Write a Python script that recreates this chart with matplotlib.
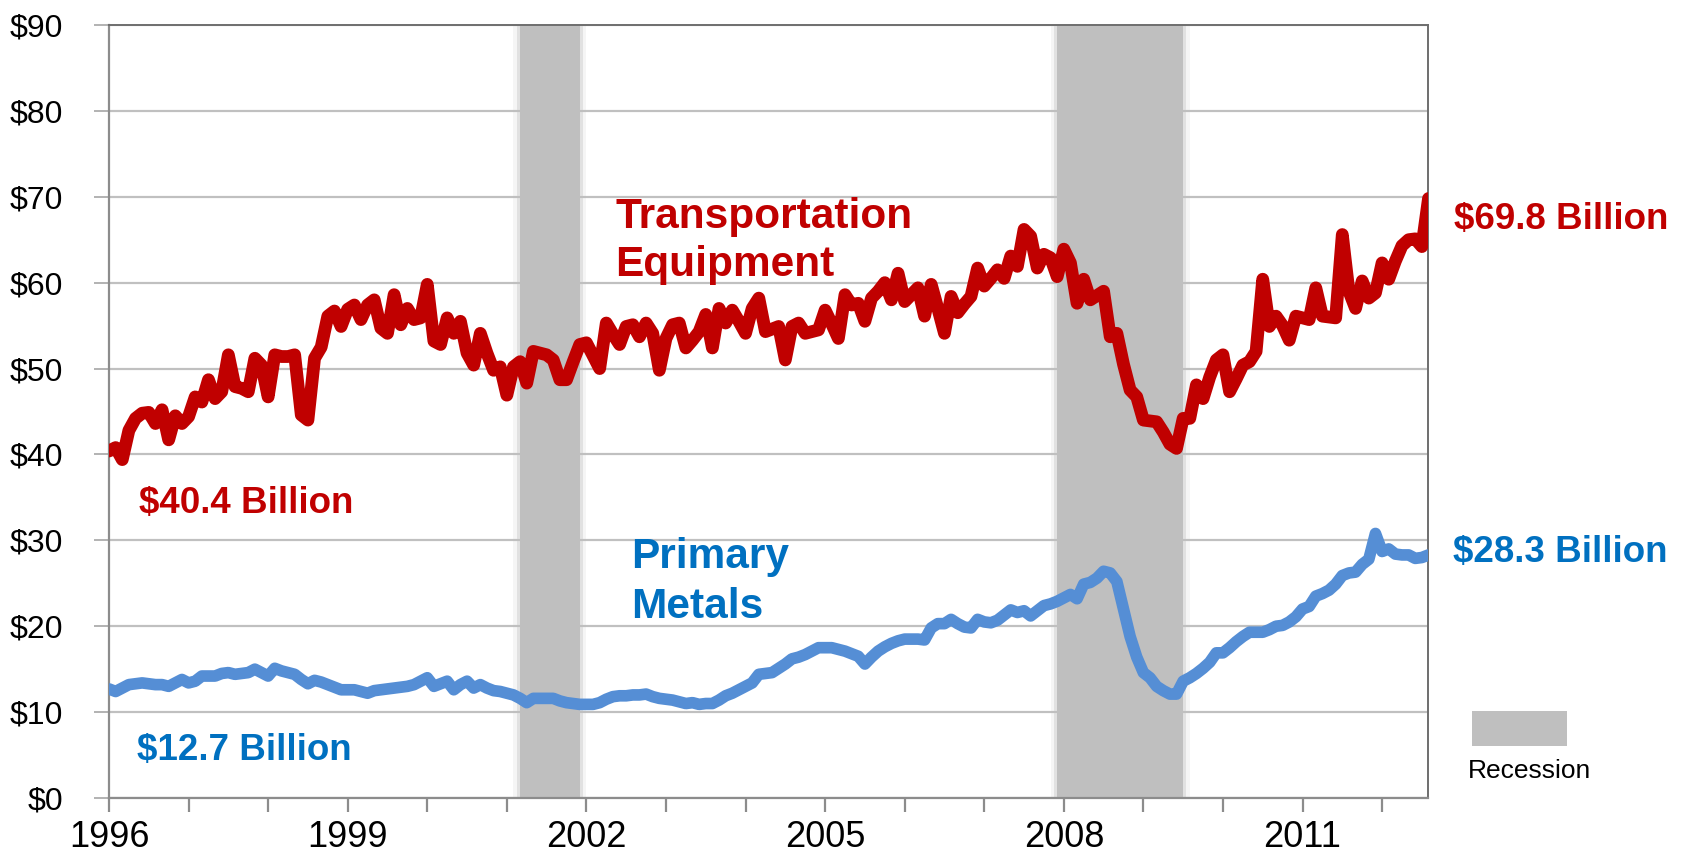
import matplotlib
matplotlib.use("Agg")
import matplotlib.pyplot as plt
from matplotlib.patches import Rectangle
import numpy as np

plt.rcParams['font.family'] = ['Liberation Sans', 'DejaVu Sans']

# Monthly shipments, Jan 1996 - Aug 2012 (billions of dollars)
transportation = [
    40.4, 40.8, 39.4, 42.8, 44.2, 44.8, 44.9, 43.6, 45.2, 41.7, 44.5, 43.6,   # 1996
    44.4, 46.7, 46.1, 48.7, 46.5, 47.3, 51.6, 47.9, 47.7, 47.3, 51.2, 50.4,   # 1997
    46.7, 51.6, 51.4, 51.4, 51.6, 44.6, 44.0, 51.2, 52.5, 56.1, 56.7, 54.9,   # 1998
    56.9, 57.4, 55.7, 57.4, 58.0, 54.7, 54.1, 58.6, 55.1, 57.0, 55.7, 55.9,   # 1999
    59.8, 53.2, 52.8, 55.9, 54.1, 55.5, 51.8, 50.4, 54.1, 51.8, 49.8, 50.2,   # 2000
    46.9, 50.2, 50.8, 48.3, 52.0, 51.8, 51.6, 51.0, 48.7, 48.7, 50.8, 52.8,   # 2001
    53.0, 51.5, 50.0, 55.3, 54.0, 52.8, 54.9, 55.1, 53.7, 55.3, 54.1, 49.8,   # 2002
    53.5, 55.1, 55.3, 52.4, 53.3, 54.3, 56.3, 52.4, 57.0, 55.3, 56.8, 55.5,   # 2003
    54.1, 57.0, 58.2, 54.3, 54.6, 54.9, 51.0, 54.9, 55.3, 54.1, 54.3, 54.5,   # 2004
    56.8, 55.2, 53.5, 58.6, 57.4, 57.6, 55.5, 58.2, 59.0, 60.0, 58.0, 61.1,   # 2005
    57.8, 58.6, 59.4, 56.1, 59.8, 57.0, 54.1, 58.4, 56.5, 57.5, 58.4, 61.7,   # 2006
    59.6, 60.5, 61.5, 60.5, 63.1, 61.9, 66.2, 65.4, 61.7, 63.3, 62.9, 60.7,   # 2007
    63.9, 62.3, 57.6, 60.4, 58.0, 58.5, 59.0, 53.7, 54.1, 50.5, 47.5, 46.7,   # 2008
    44.0, 43.9, 43.8, 42.6, 41.2, 40.7, 44.2, 44.2, 48.1, 46.5, 49.0, 51.0,   # 2009
    51.6, 47.3, 48.8, 50.4, 50.8, 52.0, 60.4, 54.9, 56.1, 55.0, 53.3, 56.1,   # 2010
    55.9, 55.7, 59.4, 56.1, 56.0, 55.9, 65.6, 59.0, 57.0, 60.2, 58.2, 58.8,   # 2011
    62.3, 60.4, 62.5, 64.3, 65.0, 65.1, 64.2, 69.8,                           # 2012
]
primary_metals = [
    12.7, 12.4, 12.8, 13.2, 13.3, 13.4, 13.3, 13.2, 13.2, 13.0, 13.4, 13.8,   # 1996
    13.4, 13.6, 14.2, 14.2, 14.2, 14.5, 14.6, 14.4, 14.5, 14.6, 15.0, 14.6,   # 1997
    14.2, 15.1, 14.8, 14.6, 14.4, 13.8, 13.3, 13.7, 13.5, 13.2, 12.9, 12.6,   # 1998
    12.6, 12.6, 12.4, 12.2, 12.5, 12.6, 12.7, 12.8, 12.9, 13.0, 13.2, 13.6,   # 1999
    14.0, 13.0, 13.3, 13.6, 12.6, 13.2, 13.6, 12.8, 13.2, 12.8, 12.5, 12.4,   # 2000
    12.2, 12.0, 11.6, 11.1, 11.6, 11.6, 11.6, 11.6, 11.3, 11.1, 11.0, 10.9,   # 2001
    10.9, 10.9, 11.1, 11.5, 11.8, 11.9, 11.9, 12.0, 12.0, 12.1, 11.8, 11.6,   # 2002
    11.5, 11.4, 11.2, 11.0, 11.1, 10.9, 11.0, 11.0, 11.4, 11.9, 12.2, 12.6,   # 2003
    13.0, 13.4, 14.4, 14.5, 14.6, 15.1, 15.6, 16.2, 16.4, 16.7, 17.1, 17.5,   # 2004
    17.5, 17.5, 17.3, 17.1, 16.8, 16.5, 15.6, 16.4, 17.1, 17.6, 18.0, 18.3,   # 2005
    18.5, 18.5, 18.5, 18.4, 19.8, 20.3, 20.3, 20.8, 20.3, 19.9, 19.8, 20.8,   # 2006
    20.5, 20.4, 20.7, 21.3, 21.9, 21.6, 21.8, 21.2, 21.8, 22.4, 22.6, 22.9,   # 2007
    23.3, 23.7, 23.2, 24.9, 25.1, 25.6, 26.4, 26.2, 25.2, 22.0, 18.8, 16.4,   # 2008
    14.6, 14.0, 13.0, 12.5, 12.1, 12.1, 13.6, 14.0, 14.5, 15.1, 15.8, 16.9,   # 2009
    16.9, 17.5, 18.2, 18.8, 19.3, 19.3, 19.3, 19.6, 20.0, 20.1, 20.5, 21.1,   # 2010
    22.0, 22.3, 23.5, 23.8, 24.2, 24.9, 25.9, 26.2, 26.3, 27.2, 27.8, 30.8,   # 2011
    28.7, 29.0, 28.4, 28.3, 28.3, 27.9, 28.0, 28.3,                           # 2012
]
year_labels = ['1996', '', '', '1999', '', '', '2002', '', '', '2005', '', '',
               '2008', '', '', '2011', '']
y_ticks = [0, 10, 20, 30, 40, 50, 60, 70, 80, 90]
y_tick_labels = ['$0', '$10', '$20', '$30', '$40', '$50', '$60', '$70', '$80', '$90']
# recessions as month index ranges (Mar-Nov 2001, Dec 2007-Jun 2009)
recessions = [(62, 71), (143, 162)]

RED = '#C00000'
BLUE_LINE = '#558ED5'
BLUE_TEXT = '#0070C0'
SHADE = '#BFBFBF'

fig = plt.figure(figsize=(16.88, 8.59), dpi=100)
ax = fig.add_axes([109 / 1688, 61 / 859, 1319.5 / 1688, 773 / 859])

n = len(transportation)
x = np.arange(n)

for s, e in recessions:
    ax.axvspan(s, e, color=SHADE, zorder=1, lw=0)
    for k, a in [(0.5, 0.35), (1.0, 0.15)]:
        ax.axvspan(s - k, s, color=SHADE, alpha=a, zorder=1, lw=0)
        ax.axvspan(e, e + k, color=SHADE, alpha=a, zorder=1, lw=0)

ax.plot(x, transportation, color=RED, lw=9.2, solid_joinstyle='round',
        solid_capstyle='round', zorder=3)
ax.plot(x, primary_metals, color=BLUE_LINE, lw=8.4, solid_joinstyle='round',
        solid_capstyle='round', zorder=3)

ax.set_xlim(0, n - 1)
ax.set_ylim(0, 90)
ax.set_yticks(y_ticks)
ax.set_yticklabels(y_tick_labels, fontsize=23)
ax.set_xticks(np.arange(0, n, 12))
ax.set_xticklabels(year_labels, fontsize=26)
ax.yaxis.grid(True, color='#C0C0C0', lw=1.6, zorder=0)
ax.set_axisbelow(True)
ax.tick_params(axis='y', length=11, width=1.2, color='#A6A6A6', pad=22)
ax.tick_params(axis='x', length=10, width=1.6, color='#8C8C8C', pad=6)
for side in ['left', 'bottom']:
    ax.spines[side].set_color('#8C8C8C')
    ax.spines[side].set_linewidth(1.6)
for side in ['top', 'right']:
    ax.spines[side].set_color('#6E6E6E')
    ax.spines[side].set_linewidth(1.4)

bold = dict(fontweight='bold', va='baseline', ha='left')
ax.text(76.4, 66.4, 'Transportation', color=RED, fontsize=30.5, **bold)
ax.text(76.4, 60.8, 'Equipment', color=RED, fontsize=30.5, **bold)
ax.text(78.8, 26.8, 'Primary', color=BLUE_TEXT, fontsize=30.5, **bold)
ax.text(78.8, 21.0, 'Metals', color=BLUE_TEXT, fontsize=30.5, **bold)
ax.text(4.5, 33.2, '$40.4 Billion', color=RED, fontsize=26.5, **bold)
ax.text(4.2, 4.4, '$12.7 Billion', color=BLUE_TEXT, fontsize=26.5, **bold)
ax.text(202.8, 66.3, '$69.8 Billion', color=RED, fontsize=26.5, clip_on=False, **bold)
ax.text(202.7, 27.5, '$28.3 Billion', color=BLUE_TEXT, fontsize=26.5, clip_on=False, **bold)

fig.patches.append(Rectangle((1472 / 1688, (859 - 746) / 859), 95 / 1688, 35 / 859,
                             transform=fig.transFigure, color=SHADE, lw=0))
fig.text(1530 / 1688, (859 - 778) / 859, 'Recession', ha='center', va='baseline',
         fontsize=19, color='black')

fig.savefig('out.png', dpi=100)
